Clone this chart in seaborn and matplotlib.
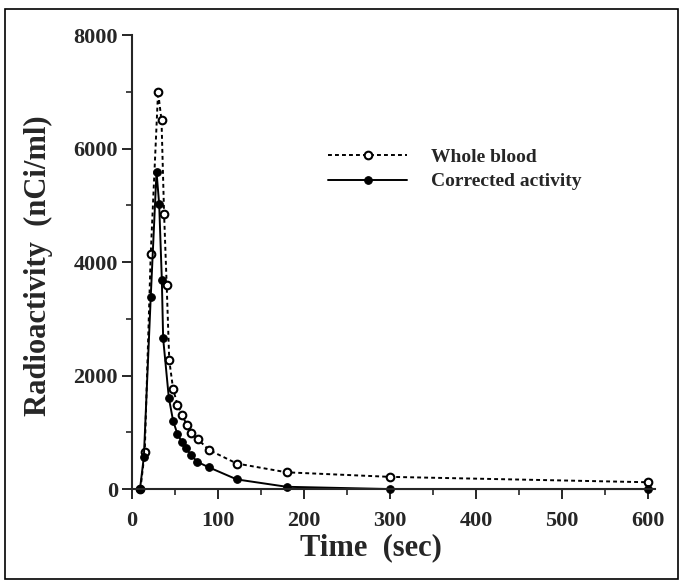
import numpy as np
import pandas as pd
import matplotlib
matplotlib.use("Agg")
import matplotlib.pyplot as plt
from matplotlib.ticker import MultipleLocator
from matplotlib.patches import Rectangle
import seaborn as sns

# ── data ─────────────────────────────────────────────────────
blood_time = [10, 15, 22, 30.5, 34.5, 37.5, 40.5, 43.5, 48, 53, 58.5, 64, 69, 77, 89.5, 122, 180, 300, 600]
blood_act  = [0, 650, 4150, 7000, 6500, 4850, 3600, 2270, 1760, 1490, 1300, 1130, 990, 875, 690, 450, 295, 215, 120]

corr_time = [9.5, 14, 22, 28.7, 31.8, 34.9, 36.4, 43, 48, 53, 58, 63, 69, 76, 90, 122, 180, 300, 600]
corr_act  = [0, 570, 3390, 5590, 5020, 3680, 2655, 1610, 1200, 970, 835, 715, 600, 480, 380, 170, 40, 0, 0]

blood = pd.DataFrame({"time": blood_time, "act": blood_act})
corr = pd.DataFrame({"time": corr_time, "act": corr_act})

sns.set_style("ticks")
plt.rcParams["font.family"] = ["Liberation Serif", "DejaVu Serif"]
plt.rcParams["font.weight"] = "bold"

fig = plt.figure(figsize=(6.83, 5.85), dpi=100)
ax = fig.add_axes([0.193, 0.164, 0.766, 0.776])

sns.lineplot(data=blood, x="time", y="act", ax=ax, color="black",
             linestyle=(0, (2, 1.6)), linewidth=1.4, marker="o", markersize=5.5,
             markerfacecolor="white", markeredgecolor="black", markeredgewidth=1.5,
             label="Whole blood", clip_on=False)
sns.lineplot(data=corr, x="time", y="act", ax=ax, color="black",
             linestyle="-", linewidth=1.4, marker="o", markersize=5.5,
             markerfacecolor="black", markeredgecolor="black",
             label="Corrected activity", clip_on=False)

ax.set_xlim(0, 608)
ax.set_ylim(0, 8000)
ax.xaxis.set_major_locator(MultipleLocator(100))
ax.xaxis.set_minor_locator(MultipleLocator(50))
ax.yaxis.set_major_locator(MultipleLocator(2000))
ax.yaxis.set_minor_locator(MultipleLocator(1000))
ax.tick_params(which="major", direction="out", length=7, width=1.4, labelsize=16)
ax.tick_params(which="minor", direction="out", length=4, width=1.2)
ax.tick_params(axis="x", which="major", pad=9)
ax.tick_params(axis="y", which="major", pad=3)
for lab in ax.get_xticklabels() + ax.get_yticklabels():
    lab.set_fontweight("bold")

sns.despine(ax=ax)
ax.spines["left"].set_linewidth(1.5)
ax.spines["bottom"].set_linewidth(1.5)

ax.set_xlabel("Time  (sec)", fontsize=22, fontweight="bold")
ax.set_ylabel("Radioactivity  (nCi/ml)", fontsize=22, fontweight="bold")
ax.xaxis.set_label_coords(0.457, -0.098)
ax.yaxis.set_label_coords(-0.15, 0.493)

leg = ax.legend(loc="upper left", bbox_to_anchor=(0.341, 0.789), frameon=False,
                fontsize=14, handlelength=4.1, handletextpad=1.2, labelspacing=0.35)
for t in leg.get_texts():
    t.set_fontweight("bold")

# border around the whole figure
fig.patches.append(Rectangle((0.008, 0.01), 0.984, 0.975, transform=fig.transFigure,
                             fill=False, edgecolor="black", linewidth=1.2))

plt.savefig("out.png", dpi=100)
